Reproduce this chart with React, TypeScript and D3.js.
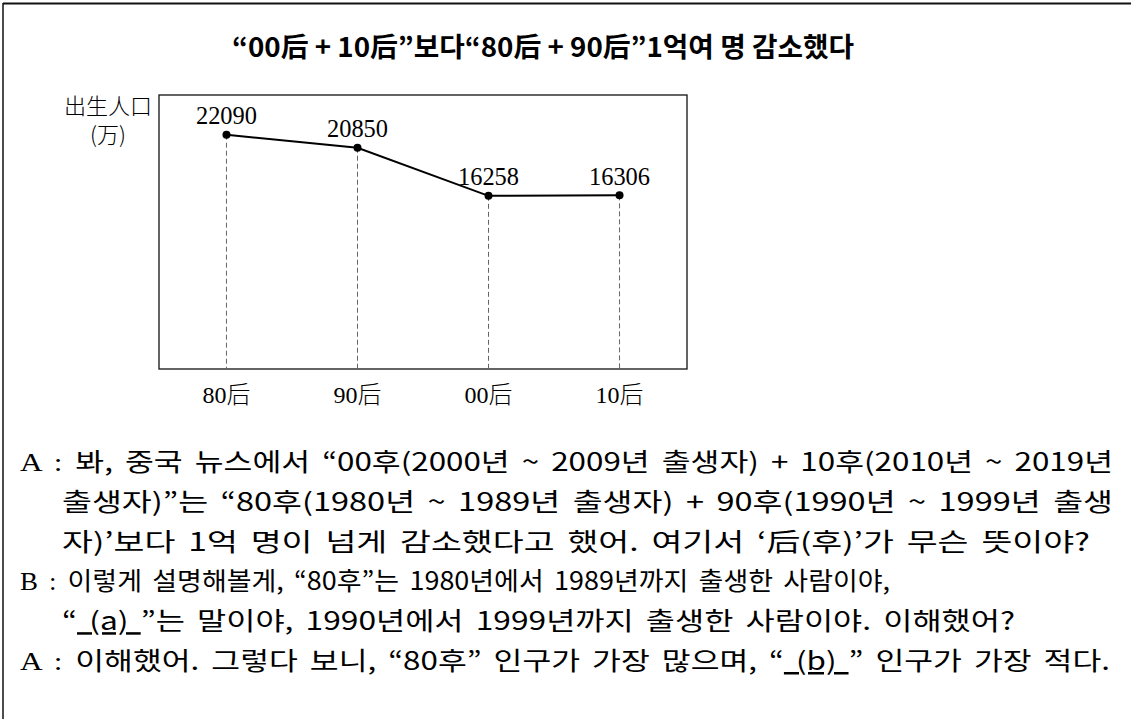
import * as d3 from 'd3'

// birth population (万) by generation
const categories = ['80后', '90后', '00后', '10后']
const births = [22090, 20850, 16258, 16306]

const title = '“00后 + 10后”보다“80后 + 90后”1억여 명 감소했다'
const yLabel = ['出生人口', '(万)']

// dialogue lines: speaker prefix + text parts (u = underlined blank)
const lines: { prefix: string; parts: { t: string; u?: boolean }[] }[] = [
  { prefix: 'A : ', parts: [{ t: '봐, 중국 뉴스에서 “00후(2000년 ~ 2009년 출생자) + 10후(2010년 ~ 2019년' }] },
  { prefix: '', parts: [{ t: '출생자)”는 “80후(1980년 ~ 1989년 출생자) + 90후(1990년 ~ 1999년 출생' }] },
  { prefix: '', parts: [{ t: '자)’보다 1억 명이 넘게 감소했다고 했어. 여기서 ‘后(후)’가 무슨 뜻이야?' }] },
  { prefix: 'B : ', parts: [{ t: '이렇게 설명해볼게, “80후”는 1980년에서 1989년까지 출생한 사람이야,' }] },
  { prefix: '', parts: [{ t: '“' }, { t: '\u00a0(a)\u00a0', u: true }, { t: '”는 말이야, 1990년에서 1999년까지 출생한 사람이야. 이해했어?' }] },
  { prefix: 'A : ', parts: [{ t: '이해했어. 그렇다 보니, “80후” 인구가 가장 많으며, “' }, { t: '\u00a0(b)\u00a0', u: true }, { t: '” 인구가 가장 적다.' }] },
]
const lineStart = [20, 62, 62, 20, 62, 20]
const lineEnd = [1113, 1113, 1090, 890, 1015, 1110]

const W = 1131
const H = 719
const box = { left: 159, right: 687, top: 95, bottom: 369 }

export default function App() {
  const x = d3.scalePoint<string>().domain(categories).range([box.left, box.right]).padding(0.515)
  const y = d3.scaleLinear().domain([-270, 25880]).range([box.bottom, box.top])
  const pts = categories.map((c, i) => ({ c, v: births[i] }))
  const line = d3.line<{ c: string; v: number }>()
    .x(d => x(d.c) as number)
    .y(d => y(d.v))

  const serif = '"Liberation Serif", "Noto Sans CJK SC", serif'
  const kr = '"Noto Sans CJK KR", sans-serif'

  return (
    <svg width={W} height={H} style={{ position: 'absolute', left: 0, top: 0, background: '#fff' }}>
      {/* outer frame */}
      <line x1={3} x2={W} y1={3.5} y2={3.5} stroke="#111" strokeWidth={2} />
      <line x1={3} x2={3} y1={3} y2={H} stroke="#111" strokeWidth={1.5} />

      <text x={543} y={57} textAnchor="middle" fontFamily={kr} fontWeight={700} fontSize={27}
        textLength={622} lengthAdjust="spacingAndGlyphs">{title}</text>

      {/* chart box */}
      <rect x={box.left} y={box.top} width={box.right - box.left} height={box.bottom - box.top}
        fill="none" stroke="#111" strokeWidth={1.3} />

      <text x={108} y={114} textAnchor="middle" fontFamily='"Noto Sans CJK SC"' fontWeight={300} fontSize={22}>{yLabel[0]}</text>
      <text x={108} y={143} textAnchor="middle" fontFamily='"Noto Sans CJK SC"' fontWeight={300} fontSize={22}>{yLabel[1]}</text>

      {pts.map(d => (
        <line key={'g' + d.c} x1={x(d.c)} x2={x(d.c)} y1={y(d.v)} y2={box.bottom}
          stroke="#666" strokeWidth={1} strokeDasharray="5,3" />
      ))}
      <path d={line(pts) || ''} fill="none" stroke="#000" strokeWidth={2} />
      {pts.map(d => (
        <circle key={'c' + d.c} cx={x(d.c)} cy={y(d.v)} r={4} fill="#000" />
      ))}
      {pts.map(d => (
        <text key={'v' + d.c} x={x(d.c)} y={y(d.v) - 10.5} textAnchor="middle" fontFamily={serif} fontSize={26}
          textLength={61} lengthAdjust="spacingAndGlyphs">{d.v}</text>
      ))}
      {categories.map(c => (
        <text key={'x' + c} x={x(c)} y={403} textAnchor="middle" fontFamily={serif} fontSize={24}>
          <tspan>{c.slice(0, 2)}</tspan>
          <tspan fontFamily='"Noto Sans CJK SC"' fontWeight={300}>{c.slice(2)}</tspan>
        </text>
      ))}

      {lines.map((l, i) => (
        <text key={'l' + i} x={lineStart[i]} y={471 + i * 39.8} fontFamily={kr} fontSize={25}
          wordSpacing={4} textLength={lineEnd[i] - lineStart[i]} lengthAdjust="spacingAndGlyphs">
          {l.prefix && <tspan fontFamily={serif}>{l.prefix}</tspan>}
          {l.parts.map((p, j) => (
            <tspan key={j} textDecoration={p.u ? 'underline' : undefined}>{p.t}</tspan>
          ))}
        </text>
      ))}
    </svg>
  )
}
